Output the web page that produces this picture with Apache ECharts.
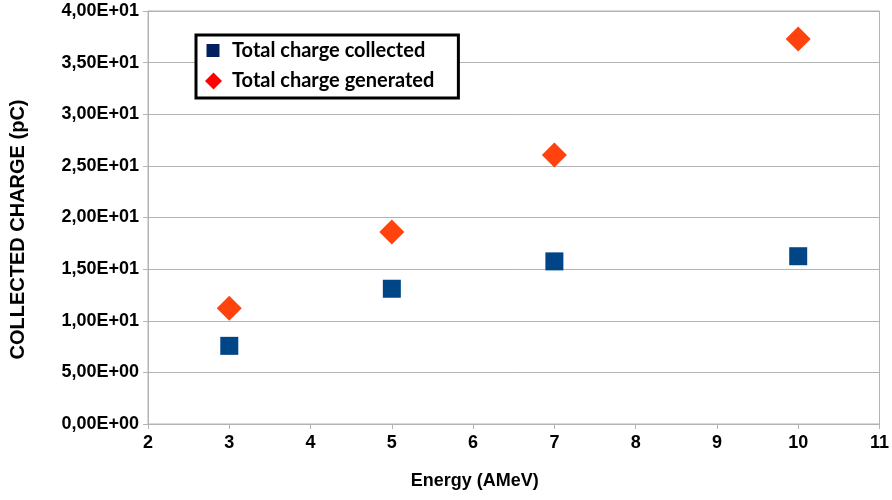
<!DOCTYPE html>
<html>
<head>
<meta charset="utf-8">
<script src="https://cdn.jsdelivr.net/npm/echarts@6/dist/echarts.min.js"></script>
<style>
  html, body { margin: 0; padding: 0; background: #fff; }
  #chart { width: 892px; height: 500px; }
</style>
</head>
<body>
<div id="chart"></div>
<script>
// Beam energy (AMeV) and charges (pC)
const energy = [3, 5, 7, 10];
const chargeCollected = [7.57, 13.1, 15.75, 16.25];
const chargeGenerated = [11.2, 18.6, 26.05, 37.3];
const seriesNames = ['Total charge collected', 'Total charge generated'];
const xTitle = 'Energy (AMeV)';
const yTitle = 'COLLECTED CHARGE (pC)';

const toPairs = (xs, ys) => xs.map((x, i) => [x, ys[i]]);
// Spreadsheet-style scientific notation with a decimal comma
const sci = v => {
  if (v === 0) return '0,00E+00';
  const e = Math.floor(Math.log10(Math.abs(v)));
  const m = (v / Math.pow(10, e)).toFixed(2).replace('.', ',');
  const es = (e < 0 ? '-' : '+') + String(Math.abs(e)).padStart(2, '0');
  return m + 'E' + es;
};

const labelFont = { fontFamily: 'Liberation Sans', fontWeight: 'bold', fontSize: 18, color: '#000' };
const gridGray = '#b3b3b3';

// Legend icons share one 22x17 frame so the text starts at the same x
const iconSquare = 'path://M0,0M22,17M1.5,1.5L14.5,1.5L14.5,14.5L1.5,14.5Z';
const iconDiamond = 'path://M0,0M22,17M8.5,0L17,8.5L8.5,17L0,8.5Z';

const chart = echarts.init(document.getElementById('chart'), null, { renderer: 'canvas' });
chart.setOption({
  animation: false,
  backgroundColor: '#fff',
  grid: { left: 147, right: 12, top: 11, bottom: 76, show: true, borderColor: gridGray, borderWidth: 1 },
  xAxis: {
    type: 'value', min: 2, max: 11, interval: 1,
    name: xTitle, nameLocation: 'middle', nameGap: 48,
    nameTextStyle: Object.assign({ padding: [0, 78, 0, 0] }, labelFont),
    axisLine: { show: true, lineStyle: { color: gridGray } },
    axisTick: { show: true, length: 5, lineStyle: { color: gridGray } },
    axisLabel: Object.assign({ margin: 10 }, labelFont),
    splitLine: { show: false }
  },
  yAxis: {
    type: 'value', min: 0, max: 40, interval: 5,
    name: yTitle, nameLocation: 'middle', nameGap: 120,
    nameTextStyle: Object.assign({ padding: [0, 24, 0, 0] }, labelFont, { fontSize: 20 }),
    axisLine: { show: true, lineStyle: { color: gridGray } },
    axisTick: { show: true, length: 5, lineStyle: { color: gridGray } },
    axisLabel: Object.assign({ margin: 9, formatter: sci }, labelFont),
    splitLine: { show: true, lineStyle: { color: gridGray } }
  },
  legend: {
    left: 196, top: 35, orient: 'vertical',
    padding: [6, 24, 7, 9], itemGap: 10,
    borderColor: '#000', borderWidth: 3, backgroundColor: '#fff',
    itemWidth: 22, itemHeight: 17,
    textStyle: { fontFamily: 'Lato', fontWeight: 'bold', fontSize: 20, color: '#000' },
    data: [
      { name: seriesNames[0], icon: iconSquare, itemStyle: { color: '#002060' } },
      { name: seriesNames[1], icon: iconDiamond, itemStyle: { color: '#ff0000' } }
    ]
  },
  series: [
    {
      name: seriesNames[0], type: 'scatter', symbol: 'rect', symbolSize: 18,
      itemStyle: { color: '#004586', opacity: 1 },
      data: toPairs(energy, chargeCollected)
    },
    {
      name: seriesNames[1], type: 'scatter', symbol: 'diamond', symbolSize: 25,
      itemStyle: { color: '#ff420e', opacity: 1 },
      data: toPairs(energy, chargeGenerated)
    }
  ]
});
</script>
</body>
</html>
